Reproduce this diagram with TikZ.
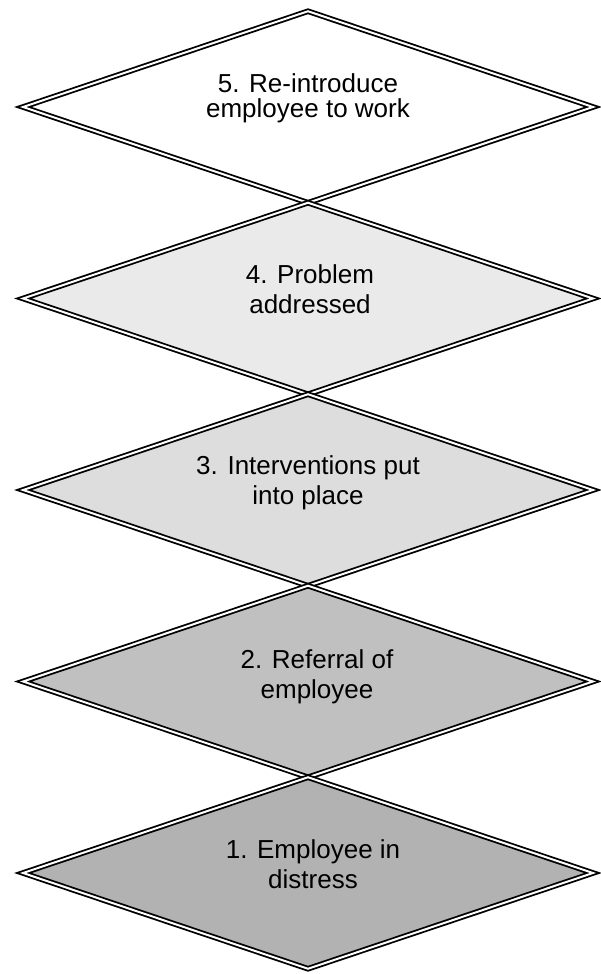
\documentclass[tikz,border=0pt]{standalone}
\usepackage{fontspec}
\setmainfont{Liberation Sans}
\definecolor{fillA}{HTML}{B2B2B2}
\definecolor{fillB}{HTML}{C0C0C0}
\definecolor{fillC}{HTML}{DDDDDD}
\definecolor{fillD}{HTML}{EAEAEA}
\tikzset{
  dia/.style={draw=black, double=white, double distance=2pt, line width=1.8pt, line join=miter},
  lbl/.style={align=center, inner sep=0pt, font=\fontsize{26}{30}\selectfont},
}
\newcommand{\diam}[3]{% x, y, fill
  \path[dia, fill=#3] (#1-285,#2) -- (#1,#2-95.75) -- (#1+285,#2) -- (#1,#2+95.75) -- cycle;
}
\begin{document}
\begin{tikzpicture}[x=1pt,y=-1pt]
\useasboundingbox (0,0) rectangle (601,974);
\diam{308}{107}{white}
\diam{308}{298.5}{fillD}
\diam{308}{490}{fillC}
\diam{308}{681.5}{fillB}
\diam{308}{873}{fillA}
\node[lbl, font=\fontsize{26}{25}\selectfont] (t5) at (308,98.5) {5. Re-introduce\\employee to work};
\node[lbl] (t4) at (310,288.8) {4. Problem\\addressed};
\node[lbl] (t3) at (308,482.6) {3. Interventions put\\into place};
\node[lbl] (t2) at (317,676.5) {2. Referral of\\employee};
\node[lbl] (t1) at (313,863.9) {1. Employee in\\distress};
\end{tikzpicture}
\end{document}
